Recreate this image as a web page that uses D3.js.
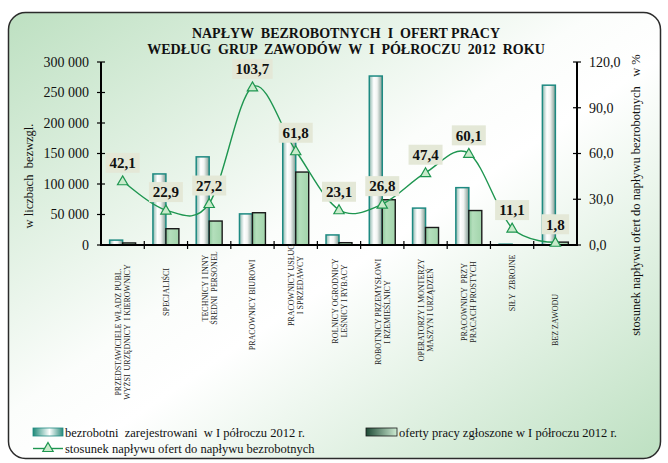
<!DOCTYPE html>
<html lang="pl">
<head>
<meta charset="utf-8">
<script src="https://cdn.jsdelivr.net/npm/d3@7"></script>
<style>
  html, body { margin: 0; padding: 0; background: #ffffff; }
  svg { display: block; font-family: "Liberation Serif", "Times New Roman", serif; }
</style>
</head>
<body>
<svg id="chart" width="668" height="463"></svg>
<script>
// Occupational groups (category axis), each label split into its printed lines
const categories = [
  ["PRZEDSTAWICIELE WŁADZ PUBL.", "WYŻSI  URZĘDNICY  I KIEROWNICY"],
  ["SPECJALIŚCI"],
  ["TECHNICY I INNY", "ŚREDNI  PERSONEL"],
  ["PRACOWNICY BIUROWI"],
  ["PRACOWNICY USŁUG", "I SPRZEDAWCY"],
  ["ROLNICY OGRODNICY", "LEŚNICY I RYBACY"],
  ["ROBOTNICY PRZEMYSŁOWI", "I RZEMIEŚLNICY"],
  ["OPERATORZY I MONTERZY", "MASZYN I URZĄDZEŃ"],
  ["PRACOWNICY  PRZY", "PRACACH PROSTYCH"],
  ["SIŁY  ZBROJNE"],
  ["BEZ ZAWODU"]
];

// Registered unemployed, I half of 2012
const unemployed = [8000, 116500, 144500, 51000, 193500, 16500, 277000, 60500, 94000, 1300, 262000];
// Job offers reported, I half of 2012
const offers = [3370, 26700, 39300, 52900, 119600, 3800, 74200, 28700, 56500, 145, 4700];
// Ratio of offers to unemployed inflow, %
const ratio = [42.1, 22.9, 27.2, 103.7, 61.8, 23.1, 26.8, 47.4, 60.1, 11.1, 1.8];
const ratioLabels = ["42,1", "22,9", "27,2", "103,7", "61,8", "23,1", "26,8", "47,4", "60,1", "11,1", "1,8"];

// Axis ticks
const leftTicks = [0, 50000, 100000, 150000, 200000, 250000, 300000];
const leftTickLabels = ["0", "50 000", "100 000", "150 000", "200 000", "250 000", "300 000"];
const rightTicks = [0, 30, 60, 90, 120];
const rightTickLabels = ["0,0", "30,0", "60,0", "90,0", "120,0"];

const titleLines = ["NAPŁYW  BEZROBOTNYCH  I  OFERT PRACY", "WEDŁUG  GRUP  ZAWODÓW  W  I  PÓŁROCZU  2012  ROKU"];
const legendNames = [
  "bezrobotni  zarejestrowani  w I półroczu 2012 r.",
  "oferty pracy zgłoszone w I półroczu 2012 r.",
  "stosunek napływu ofert do napływu bezrobotnych"
];

// Vertical centre of each rotated category label (layout only)
const labelCentreY = [332, 292, 288, 305, 285, 301, 312, 310, 302, 283, 320];

const svg = d3.select("#chart");
const defs = svg.append("defs");

// Frame background: diagonal green-white-green wash
const bg = defs.append("linearGradient").attr("id", "bgGrad")
  .attr("x1", 0).attr("y1", 0).attr("x2", 1).attr("y2", 1);
bg.append("stop").attr("offset", "0%").attr("stop-color", "#bde0c1");
bg.append("stop").attr("offset", "45%").attr("stop-color", "#fbfdfb");
bg.append("stop").attr("offset", "55%").attr("stop-color", "#ffffff");
bg.append("stop").attr("offset", "100%").attr("stop-color", "#bde0c1");

// Cylinder-like fill for the unemployed bars
const g1 = defs.append("linearGradient").attr("id", "barGrad1").attr("x1", 0).attr("x2", 1).attr("y1", 0).attr("y2", 0);
g1.append("stop").attr("offset", "0%").attr("stop-color", "#8fb8ae");
g1.append("stop").attr("offset", "35%").attr("stop-color", "#ffffff");
g1.append("stop").attr("offset", "60%").attr("stop-color", "#f2f4f2");
g1.append("stop").attr("offset", "100%").attr("stop-color", "#7f9a90");

// Green fill for the offers bars
const g2 = defs.append("linearGradient").attr("id", "barGrad2").attr("x1", 0).attr("x2", 1).attr("y1", 0).attr("y2", 0);
g2.append("stop").attr("offset", "0%").attr("stop-color", "#8cc79a");
g2.append("stop").attr("offset", "30%").attr("stop-color", "#b4dfbc");
g2.append("stop").attr("offset", "100%").attr("stop-color", "#a2d4ab");

// Legend swatches
const l1 = defs.append("linearGradient").attr("id", "legGrad1").attr("x1", 0).attr("x2", 1);
l1.append("stop").attr("offset", "0%").attr("stop-color", "#1f8a78");
l1.append("stop").attr("offset", "55%").attr("stop-color", "#ffffff");
l1.append("stop").attr("offset", "100%").attr("stop-color", "#2a8a7a");
const l2 = defs.append("linearGradient").attr("id", "legGrad2").attr("x1", 0).attr("x2", 1);
l2.append("stop").attr("offset", "0%").attr("stop-color", "#1d4a35");
l2.append("stop").attr("offset", "100%").attr("stop-color", "#cdebd2");

svg.append("rect")
  .attr("x", 8.5).attr("y", 12.5).attr("width", 652).attr("height", 446)
  .attr("rx", 17).attr("ry", 17)
  .attr("fill", "url(#bgGrad)").attr("stroke", "#2b2b2b").attr("stroke-width", 1.5);

// Plot geometry
const plot = { left: 101, right: 577, top: 62, bottom: 245 };

const x = d3.scaleBand()
  .domain(d3.range(categories.length))
  .range([plot.left, plot.right])
  .paddingInner(0).paddingOuter(0);
const yL = d3.scaleLinear().domain([0, 300000]).range([plot.bottom, plot.top]);
const yR = d3.scaleLinear().domain([0, 120]).range([plot.bottom, plot.top]);

const barW = x.bandwidth() * 0.3;
const barOff = (x.bandwidth() - 2 * barW) / 2;

// Title
svg.append("g").selectAll("text").data(titleLines).join("text")
  .attr("x", 346).attr("y", (d, i) => 38 + i * 16)
  .attr("text-anchor", "middle")
  .attr("font-size", 14).attr("font-weight", "bold").attr("fill", "#111")
  .attr("xml:space", "preserve")
  .text(d => d);

// Bars
svg.append("g").selectAll("rect").data(unemployed).join("rect")
  .attr("x", (d, i) => x(i) + barOff)
  .attr("y", d => yL(d))
  .attr("width", barW)
  .attr("height", d => yL(0) - yL(d))
  .attr("fill", "url(#barGrad1)")
  .attr("stroke", "#1e8a82").attr("stroke-width", 1.5);

svg.append("g").selectAll("rect").data(offers).join("rect")
  .attr("x", (d, i) => x(i) + barOff + barW)
  .attr("y", d => yL(d))
  .attr("width", barW)
  .attr("height", d => yL(0) - yL(d))
  .attr("fill", "url(#barGrad2)")
  .attr("stroke", "#1a1a1a").attr("stroke-width", 1.4);

// Axes
const axisG = svg.append("g").attr("stroke", "#000");
axisG.append("line").attr("x1", plot.left).attr("x2", plot.left).attr("y1", plot.top).attr("y2", plot.bottom + 1).attr("stroke-width", 2);
axisG.append("line").attr("x1", plot.right).attr("x2", plot.right).attr("y1", plot.top).attr("y2", plot.bottom + 1).attr("stroke-width", 2);
axisG.append("line").attr("x1", plot.left - 1).attr("x2", plot.right + 1).attr("y1", plot.bottom).attr("y2", plot.bottom).attr("stroke-width", 2);

// Crossing tick marks
axisG.append("g").selectAll("line").data(leftTicks).join("line")
  .attr("x1", plot.left - 4).attr("x2", plot.left + 4)
  .attr("y1", d => yL(d)).attr("y2", d => yL(d)).attr("stroke-width", 1.2);
axisG.append("g").selectAll("line").data(rightTicks).join("line")
  .attr("x1", plot.right - 4).attr("x2", plot.right + 4)
  .attr("y1", d => yR(d)).attr("y2", d => yR(d)).attr("stroke-width", 1.2);
axisG.append("g").selectAll("line").data(d3.range(1, categories.length)).join("line")
  .attr("x1", d => x(d)).attr("x2", d => x(d))
  .attr("y1", plot.bottom - 4).attr("y2", plot.bottom + 4).attr("stroke-width", 1.2);

// Tick labels
svg.append("g").selectAll("text").data(leftTicks).join("text")
  .attr("x", plot.left - 12).attr("y", d => yL(d)).attr("dy", "0.35em")
  .attr("text-anchor", "end").attr("font-size", 14).attr("fill", "#111")
  .text((d, i) => leftTickLabels[i]);
svg.append("g").selectAll("text").data(rightTicks).join("text")
  .attr("x", plot.right + 12).attr("y", d => yR(d)).attr("dy", "0.35em")
  .attr("text-anchor", "start").attr("font-size", 14).attr("fill", "#111")
  .text((d, i) => rightTickLabels[i]);

// Axis titles
svg.append("text")
  .attr("transform", "translate(33,176) rotate(-90)")
  .attr("text-anchor", "middle").attr("font-size", 12.5).attr("fill", "#111")
  .attr("xml:space", "preserve")
  .text("w liczbach  bezwzgl.");
svg.append("text")
  .attr("transform", "translate(640,195) rotate(-90)")
  .attr("text-anchor", "middle").attr("font-size", 12.5).attr("fill", "#111")
  .attr("xml:space", "preserve")
  .text("stosunek napływu ofert do napływu bezrobotnych   w %");

// Category labels, rotated
const catG = svg.append("g").selectAll("text").data(categories).join("text")
  .attr("transform", (d, i) => `translate(${x(i) + x.bandwidth() / 2},${labelCentreY[i]}) rotate(-90)`)
  .attr("text-anchor", "middle").attr("font-size", 8).attr("fill", "#222")
  .attr("xml:space", "preserve");
catG.selectAll("tspan").data(d => d.map((t, j) => ({ t, j, n: d.length }))).join("tspan")
  .attr("x", 0)
  .attr("y", d => 3 + (d.j - (d.n - 1) / 2) * 9)
  .text(d => d.t);

// Ratio line (smoothed)
const lineColor = "#1e9650";
const line = d3.line()
  .x((d, i) => x(i) + x.bandwidth() / 2)
  .y(d => yR(d))
  .curve(d3.curveCatmullRom.alpha(0));
svg.append("path").datum(ratio)
  .attr("d", line).attr("fill", "none")
  .attr("stroke", lineColor).attr("stroke-width", 1.4);

const tri = d3.symbol().type(d3.symbolTriangle).size(46);
svg.append("g").selectAll("path").data(ratio).join("path")
  .attr("transform", (d, i) => `translate(${x(i) + x.bandwidth() / 2},${yR(d) + 1})`)
  .attr("d", tri)
  .attr("fill", "#c9ebcb").attr("stroke", lineColor).attr("stroke-width", 1.2);

// Value labels in boxes
const lab = svg.append("g").selectAll("g").data(ratio).join("g")
  .attr("transform", (d, i) => `translate(${x(i) + x.bandwidth() / 2},${yR(d) - 18})`);
lab.append("rect")
  .attr("x", (d, i) => -(ratioLabels[i].length * 6.5 + 8) / 2)
  .attr("y", -10)
  .attr("width", (d, i) => ratioLabels[i].length * 6.5 + 8)
  .attr("height", 20)
  .attr("fill", "#e4e8d7");
lab.append("text")
  .attr("text-anchor", "middle").attr("dy", "0.35em")
  .attr("font-size", 15).attr("font-weight", "bold").attr("fill", "#111")
  .text((d, i) => ratioLabels[i]);

// Legend
const leg = svg.append("g");
leg.append("rect").attr("x", 33).attr("y", 428).attr("width", 30).attr("height", 8)
  .attr("fill", "url(#legGrad1)").attr("stroke", "#1e8a82").attr("stroke-width", 0.8);
leg.append("text").attr("x", 65).attr("y", 436.5).attr("font-size", 12.5).attr("fill", "#111")
  .attr("xml:space", "preserve").text(legendNames[0]);
leg.append("rect").attr("x", 366).attr("y", 428).attr("width", 31).attr("height", 8)
  .attr("fill", "url(#legGrad2)").attr("stroke", "#1a1a1a").attr("stroke-width", 0.8);
leg.append("text").attr("x", 399).attr("y", 436.5).attr("font-size", 12.5).attr("fill", "#111")
  .attr("xml:space", "preserve").text(legendNames[1]);
leg.append("line").attr("x1", 33).attr("x2", 63).attr("y1", 448.5).attr("y2", 448.5)
  .attr("stroke", lineColor).attr("stroke-width", 1.4);
leg.append("path").attr("transform", "translate(48,448.5)").attr("d", tri)
  .attr("fill", "#c9ebcb").attr("stroke", lineColor).attr("stroke-width", 1.2);
leg.append("text").attr("x", 65).attr("y", 452.5).attr("font-size", 12.5).attr("fill", "#111")
  .text(legendNames[2]);
</script>
</body>
</html>
